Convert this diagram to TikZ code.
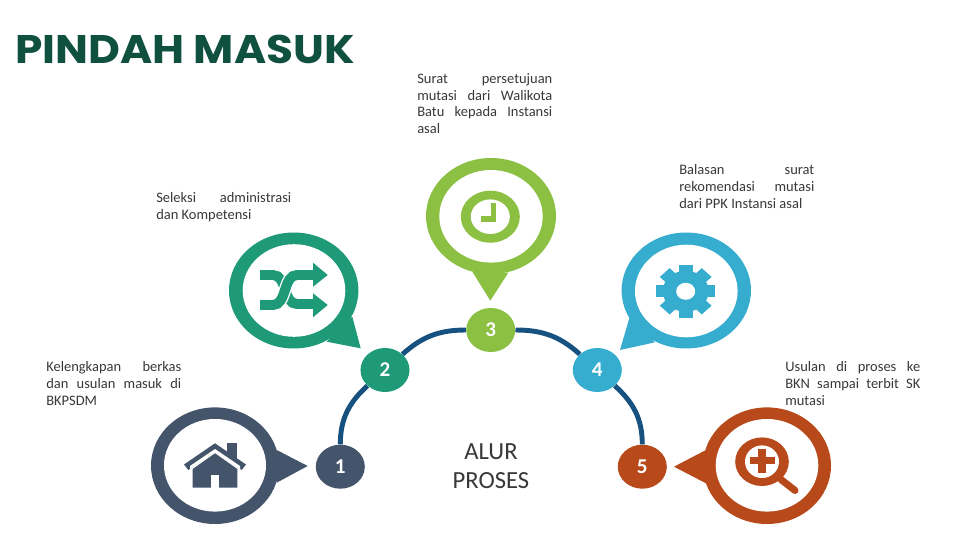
\documentclass[tikz,border=0pt]{standalone}
\usepackage{fontspec}
\setmainfont{Carlito}
\newfontfamily\titlefont{Poppins}
\usetikzlibrary{shapes.geometric}
\hbadness=10000
\hfuzz=5pt
\definecolor{slateblue}{HTML}{44546A}
\definecolor{teal}{HTML}{1F9A78}
\definecolor{leaf}{HTML}{8BC043}
\definecolor{sky}{HTML}{36ADCF}
\definecolor{rust}{HTML}{B7491A}
\definecolor{arcblue}{HTML}{17517F}
\definecolor{titlegreen}{HTML}{10503E}
\tikzset{
  numdot/.style={ellipse,minimum width=1.225cm,minimum height=1.1cm,inner sep=0pt,text=white,font=\fontsize{15}{17}\selectfont\bfseries},
  note/.style={anchor=north west,text width=3.375cm,inner sep=0pt,align=justify,text=black!78,font=\fontsize{10.3}{12}\selectfont},
  arcline/.style={arcblue,line width=3.5pt},
}
\begin{document}
\begin{tikzpicture}[x=0.025cm,y=0.025cm,line cap=butt]
\useasboundingbox (0,0) rectangle (960,540);
\node[anchor=west,inner sep=0pt,text=titlegreen,xscale=1.097,font=\titlefont\bfseries\fontsize{28.4}{30}\selectfont] (title) at (15,491) {PINDAH MASUK};
% bubble 1
\fill[slateblue] (215,74.3) ellipse [x radius=64,y radius=58.3];
\fill[slateblue] (276.7,90) -- (307.7,74) -- (276.7,57.3) -- cycle;
\fill[white] (215,74.7) ellipse [x radius=51,y radius=46.3];
\fill[slateblue] (215,96.7) -- (246,75.5) -- (241.7,70) -- (215,88.5) -- (188.3,70) -- (184,75.5) -- cycle;
\fill[slateblue] (227.3,96.7) rectangle (236.7,80);
\fill[white] (215,91) -- (240,74) -- (240,71) -- (215,88) -- (190,71) -- (190,74) -- cycle;
\fill[slateblue] (215,86.7) -- (237.3,71) -- (237.3,52.3) -- (192.7,52.3) -- (192.7,71) -- cycle;
\fill[white] (210.7,65) rectangle (219.3,52.3);
% bubble 2
\fill[teal] (293.7,249.5) ellipse [x radius=64.7,y radius=58];
\fill[teal] (352.3,223.3) -- (360.7,191.7) -- (326.7,198.3) -- cycle;
\fill[white] (294,249.5) ellipse [x radius=51.3,y radius=46.3];
\draw[teal,line width=7.1pt] (260,265) -- (273,265) .. controls (287,265) and (283,236) .. (297,236) -- (313,236);
\draw[white,line width=9pt] (273,235) .. controls (287,235) and (283,265) .. (297,265);
\draw[teal,line width=7.1pt] (260,235) -- (273,235) .. controls (287,235) and (283,265) .. (297,265) -- (313,265);
\fill[teal] (313,277.3) -- (327.7,265) -- (313,253.3) -- cycle;
\fill[teal] (313,246.7) -- (327.7,235) -- (313,222.7) -- cycle;
% bubble 3
\fill[leaf] (491,324) ellipse [x radius=65,y radius=58];
\fill[leaf] (472.3,268.3) -- (490.3,239.3) -- (508.3,267.3) -- cycle;
\fill[white] (491,323.7) ellipse [x radius=51.7,y radius=46.3];
\fill[leaf] (490.3,323.3) ellipse [x radius=29.5,y radius=26];
\fill[white] (490.3,323.3) ellipse [x radius=19.5,y radius=17.3];
\fill[leaf] (490.7,337.3) rectangle (496,318.3);
\fill[leaf] (481,324) rectangle (496,318.3);
% bubble 4
\fill[sky] (686.3,249.5) ellipse [x radius=64.7,y radius=58];
\fill[sky] (629.3,221.7) -- (620,190) -- (655,197.7) -- cycle;
\fill[white] (686.3,249) ellipse [x radius=51.3,y radius=46.3];
\begin{scope}[shift={(685.7,248.7)},xscale=1.12]
\fill[sky] (0,0) circle (20.5);
\foreach \a in {0,45,...,315}
  \fill[sky,rotate=\a] (-6.2,15) rectangle (6.2,26.5);
\fill[white] (0,0) circle (8.5);
\end{scope}
% bubble 5
\fill[rust] (767,74.3) ellipse [x radius=64,y radius=58.3];
\fill[rust] (706,90) -- (674,73.3) -- (706,56.7) -- cycle;
\fill[white] (767,74.7) ellipse [x radius=51.3,y radius=46.3];
\fill[rust] (762,78.3) ellipse [x radius=26.8,y radius=24.3];
\fill[white] (762,78.3) ellipse [x radius=17,y radius=16.3];
\fill[rust] (750,82.7) rectangle (775.3,76);
\fill[rust] (758.3,90.7) rectangle (766,66.7);
\draw[rust,line width=5pt,line cap=round] (781,60.5) -- (795,49.5);
% numbered stops
\node[numdot,fill=slateblue] (n1) at (340.3,73.3) {1};
\node[numdot,fill=teal] (n2) at (385,170) {2};
\node[numdot,fill=leaf] (n3) at (490.7,210) {3};
\node[numdot,fill=sky] (n4) at (597.3,170) {4};
\node[numdot,fill=rust] (n5) at (642.3,73.3) {5};
\draw[arcline] (n1) to[out=90,in=222] (n2);
\draw[arcline] (n2) to[out=42,in=180] (n3);
\draw[arcline] (n3) to[out=0,in=138] (n4);
\draw[arcline] (n4) to[out=-42,in=90] (n5);
\node[align=center,inner sep=0pt,text=black!78,font=\fontsize{17.5}{20.6}\selectfont] (centre) at (491,73.5) {ALUR\\PROSES};
% notes
\node[note] (note3) at (417,467) {Surat persetujuan\linebreak mutasi dari Walikota\linebreak Batu kepada Instansi\linebreak asal};
\node[note] (note4) at (679,376) {Balasan surat\linebreak rekomendasi mutasi\linebreak dari PPK Instansi asal};
\node[note] (note2) at (156,348) {Seleksi administrasi\linebreak dan Kompetensi};
\node[note] (note1) at (46,179) {Kelengkapan berkas\linebreak dan usulan masuk di\linebreak BKPSDM};
\node[note] (note5) at (785,179) {Usulan di proses ke\linebreak BKN sampai terbit SK\linebreak mutasi};
\end{tikzpicture}
\end{document}
